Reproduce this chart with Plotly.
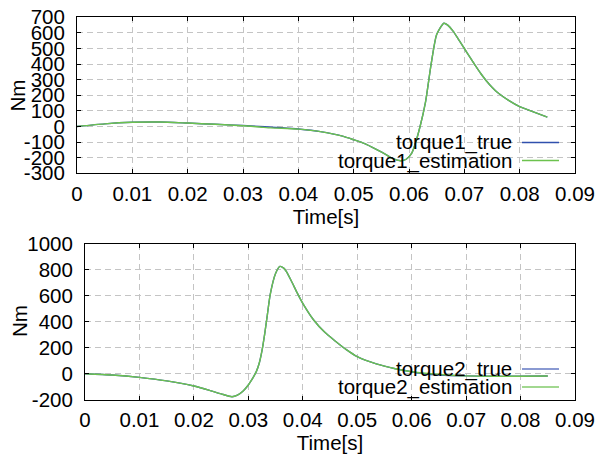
import plotly.graph_objects as go

# ---- torque 1 -------------------------------------------------------------
t1 = [0, 0.005, 0.010, 0.015, 0.020, 0.025, 0.030, 0.033, 0.035, 0.037,
      0.040, 0.044, 0.048, 0.050, 0.052, 0.054, 0.056, 0.057, 0.0585, 0.0595,
      0.0605, 0.061, 0.062, 0.063, 0.064, 0.065, 0.0663, 0.067, 0.068, 0.069,
      0.070, 0.071, 0.072, 0.073, 0.074, 0.075, 0.076, 0.078, 0.080, 0.082,
      0.085]
torque1_true = [0, 17, 27, 29, 22, 14, 6, 0, -4, -8,
                -16, -33, -62, -85, -110, -145, -183, -205, -220, -210,
                -170, -125, 0, 160, 400, 590, 662, 650, 610, 555,
                500, 445, 390, 338, 292, 252, 218, 168, 128, 100,
                60]
torque1_estimation = [0, 17, 27, 29, 22, 14, 5, -3, -9, -11,
                      -17, -33, -62, -85, -110, -145, -183, -205, -220, -210,
                      -170, -125, 0, 160, 400, 590, 662, 650, 610, 555,
                      500, 445, 390, 338, 292, 252, 218, 168, 128, 100,
                      60]

# ---- torque 2 -------------------------------------------------------------
t2 = [0, 0.005, 0.010, 0.015, 0.020, 0.023, 0.025, 0.027, 0.028, 0.029,
      0.030, 0.0305, 0.031, 0.0315, 0.032, 0.0325, 0.033, 0.0335, 0.034, 0.035,
      0.0358, 0.0365, 0.037, 0.038, 0.039, 0.040, 0.042, 0.044, 0.046, 0.048,
      0.050, 0.0535, 0.057, 0.060, 0.063, 0.066, 0.070, 0.075, 0.080, 0.085]
torque2_true = [0, -10, -28, -55, -95, -130, -155, -177, -165, -135,
                -87, -55, -20, 20, 80, 175, 305, 455, 605, 770,
                825, 812, 785, 705, 620, 541, 413, 320, 250, 185,
                131, 75, 38, 15, -4, -12, -17, -20, -20, -18]
torque2_estimation = [0, -10, -28, -55, -95, -130, -155, -177, -165, -135,
                      -87, -55, -20, 20, 80, 175, 305, 455, 605, 770,
                      825, 812, 785, 705, 620, 541, 413, 320, 250, 185,
                      131, 75, 38, 15, 2, -8, -17, -20, -20, -18]

# ---- tick labels (plain hyphen for negatives) -----------------------------
x_ticks = [0, 0.01, 0.02, 0.03, 0.04, 0.05, 0.06, 0.07, 0.08, 0.09]
x_tick_text = ["0", "0.01", "0.02", "0.03", "0.04", "0.05", "0.06", "0.07", "0.08", "0.09"]
y1_ticks = [-300, -200, -100, 0, 100, 200, 300, 400, 500, 600, 700]
y1_tick_text = ["-300", "-200", "-100", "0", "100", "200", "300", "400", "500", "600", "700"]
y2_ticks = [-200, 0, 200, 400, 600, 800, 1000]
y2_tick_text = ["-200", "0", "200", "400", "600", "800", "1000"]

BLUE = "#3050ad"
GREEN = "#6cc24e"
FONT = "Liberation Sans, Arial, sans-serif"
FSIZE = 20.5
W, H = 598, 458

fig = go.Figure()

line_kw = dict(shape="spline", smoothing=0.6, width=1.4)
fig.add_trace(go.Scatter(x=t1, y=torque1_true, name="torque1_true", mode="lines",
                         line=dict(color=BLUE, **line_kw), xaxis="x", yaxis="y"))
fig.add_trace(go.Scatter(x=t1, y=torque1_estimation, name="torque1_estimation", mode="lines",
                         line=dict(color=GREEN, **line_kw), xaxis="x", yaxis="y"))
fig.add_trace(go.Scatter(x=t2, y=torque2_true, name="torque2_true", mode="lines",
                         line=dict(color=BLUE, **line_kw), xaxis="x2", yaxis="y2"))
fig.add_trace(go.Scatter(x=t2, y=torque2_estimation, name="torque2_estimation", mode="lines",
                         line=dict(color=GREEN, **line_kw), xaxis="x2", yaxis="y2"))

txt = dict(family=FONT, size=FSIZE, color="black")
grid = dict(showgrid=True, gridcolor="#c4c4c4", gridwidth=1, griddash="6px,4px",
            zeroline=False, showline=True, linecolor="black", linewidth=1,
            mirror="allticks", ticks="inside", ticklen=4, tickcolor="black",
            tickfont=txt)


def px_x(p):
    return p / W


def px_y(p):
    return 1 - p / H


xcommon = dict(range=[0, 0.09], tickvals=x_ticks, ticktext=x_tick_text,
               title=dict(text="Time[s]", font=txt, standoff=4),
               ticklabelstandoff=2, **grid)

fig.update_layout(
    width=W, height=H, margin=dict(l=0, r=0, t=0, b=0), autosize=False,
    template="none", paper_bgcolor="white", plot_bgcolor="white",
    showlegend=False,
    font=txt,
    xaxis=dict(domain=[px_x(77), px_x(575)], anchor="y", **xcommon),
    yaxis=dict(domain=[px_y(173.3), px_y(17.3)], anchor="x", range=[-300, 700],
               tickvals=y1_ticks, ticktext=y1_tick_text,
               ticklabelstandoff=7, **grid),
    xaxis2=dict(domain=[px_x(85), px_x(575)], anchor="y2", **xcommon),
    yaxis2=dict(domain=[px_y(399.7), px_y(243.7)], anchor="x2", range=[-200, 1000],
                tickvals=y2_ticks, ticktext=y2_tick_text,
                ticklabelstandoff=7, **grid),
)

# y-axis titles, rotated, placed left of the tick labels
for ypx, xpx in ((95.5, 17), (321.0, 19)):
    fig.add_annotation(x=px_x(xpx), y=px_y(ypx), xref="paper", yref="paper",
                       text="Nm", textangle=-90, showarrow=False,
                       xanchor="center", yanchor="middle", font=txt)

# gnuplot-style key: label on the left, line sample on the right
keys = [
    ("torque1_true", BLUE, 142.5),
    ("torque1_estimation", GREEN, 160.5),
    ("torque2_true", "#8a9ad2", 369.0),
    ("torque2_estimation", "#a2d890", 387.0),
]
for name, color, ypx in keys:
    fig.add_annotation(x=px_x(514), y=px_y(ypx), xref="paper", yref="paper",
                       text=name, showarrow=False, xanchor="right", yanchor="middle",
                       font=txt)
    fig.add_shape(type="line", xref="paper", yref="paper",
                  x0=px_x(522), x1=px_x(559), y0=px_y(ypx), y1=px_y(ypx),
                  line=dict(color=color, width=1.5 if ypx < 200 else 2.2))

fig.write_html("out.html")
